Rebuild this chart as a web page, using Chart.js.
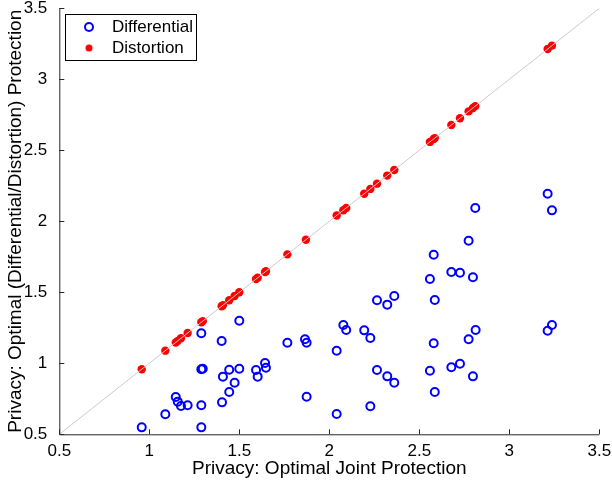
<!DOCTYPE html>
<html>
<head>
<meta charset="utf-8">
<script src="https://cdn.jsdelivr.net/npm/chart.js@4.4.0/dist/chart.umd.min.js"></script>
<style>
  html, body { margin: 0; padding: 0; background: #fff; }
  canvas { display: block; }
</style>
</head>
<body>
<canvas id="privacyChart" width="612" height="481"></canvas>
<script>
// axis ticks and reference line (y = x)
const tickValues = [0.5, 1, 1.5, 2, 2.5, 3, 3.5];
const diagonal = [0.5, 3.5];

// Differential (blue open circles)
const diffX = [0.958, 1.089, 1.147, 1.158, 1.176, 1.213, 1.289, 1.289, 1.297, 1.289, 1.289,
    1.402, 1.404, 1.409, 1.444, 1.444, 1.474, 1.500, 1.500, 1.593, 1.602, 1.643, 1.648,
    1.767, 1.865, 1.874, 1.874, 2.041, 2.041, 2.078, 2.094, 2.194, 2.228, 2.228, 2.265,
    2.265, 2.322, 2.322, 2.361, 2.361, 2.559, 2.559, 2.580, 2.580, 2.586, 2.586, 2.678,
    2.678, 2.726, 2.726, 2.774, 2.774, 2.798, 2.798, 2.811, 2.813, 3.213, 3.213, 3.237, 3.237];
const diffY = [0.549, 0.641, 0.763, 0.730, 0.699, 0.704, 1.211, 0.958, 0.962, 0.704, 0.549,
    1.157, 0.725, 0.906, 0.955, 0.798, 0.863, 1.300, 0.962, 0.953, 0.906, 1.002, 0.969,
    1.145, 1.169, 1.145, 0.765, 1.089, 0.643, 1.270, 1.234, 1.232, 1.178, 0.697, 1.444,
    0.953, 1.413, 0.908, 1.474, 0.863, 1.594, 0.948, 1.765, 1.141, 1.446, 0.798, 1.643,
    0.972, 1.638, 0.997, 1.863, 1.169, 1.606, 0.908, 2.094, 1.234, 2.194, 1.229, 2.077, 1.270];

// Distortion (red dots, on the diagonal)
const distX = [0.958, 1.089, 1.147, 1.158, 1.176, 1.213, 1.289, 1.297, 1.402, 1.409, 1.444,
    1.474, 1.500, 1.593, 1.602, 1.643, 1.648, 1.767, 1.870, 2.041, 2.078, 2.094, 2.194,
    2.228, 2.265, 2.322, 2.361, 2.559, 2.580, 2.586, 2.678, 2.726, 2.774, 2.798, 2.811,
    3.213, 3.237];
const distY = [0.958, 1.089, 1.147, 1.158, 1.176, 1.213, 1.289, 1.297, 1.402, 1.409, 1.444,
    1.474, 1.500, 1.593, 1.602, 1.643, 1.648, 1.767, 1.870, 2.041, 2.078, 2.094, 2.194,
    2.228, 2.265, 2.322, 2.361, 2.559, 2.580, 2.586, 2.678, 2.726, 2.774, 2.798, 2.811,
    3.213, 3.237];

const FONT = "'Liberation Sans', Arial, Helvetica, sans-serif";
const AXIS_COLOR = '#262626';

function toPoints(xs, ys) {
    return xs.map((x, i) => ({ x: x, y: ys[i] }));
}

// MATLAB-style axes: left + bottom lines with ticks pointing inward, plus a boxed legend
const matlabAxes = {
    id: 'matlabAxes',
    afterDraw(chart) {
        const ctx = chart.ctx;
        const xs = chart.scales.x, ys = chart.scales.y;
        const area = chart.chartArea;
        ctx.save();
        ctx.strokeStyle = AXIS_COLOR;
        ctx.lineWidth = 1;
        ctx.beginPath();
        ctx.moveTo(area.left + 0.5, area.top);
        ctx.lineTo(area.left + 0.5, area.bottom + 0.5);
        ctx.lineTo(area.right, area.bottom + 0.5);
        tickValues.forEach(v => {
            const px = Math.round(xs.getPixelForValue(v)) + 0.5;
            ctx.moveTo(px, area.bottom);
            ctx.lineTo(px, area.bottom - 5);
            const py = Math.round(ys.getPixelForValue(v)) + 0.5;
            ctx.moveTo(area.left, py);
            ctx.lineTo(area.left + 5, py);
        });
        ctx.stroke();

        // legend
        const bx = 65.5, by = 14.5, bw = 131, bh = 46;
        ctx.fillStyle = '#fff';
        ctx.fillRect(bx, by, bw, bh);
        ctx.strokeStyle = '#000';
        ctx.strokeRect(bx, by, bw, bh);

        ctx.beginPath();
        ctx.arc(89, 27, 4, 0, Math.PI * 2);
        ctx.strokeStyle = '#0000ff';
        ctx.lineWidth = 2;
        ctx.stroke();

        ctx.beginPath();
        ctx.arc(89, 48, 3.5, 0, Math.PI * 2);
        ctx.fillStyle = '#ff0000';
        ctx.fill();

        ctx.fillStyle = '#000';
        ctx.font = '17px ' + FONT;
        ctx.textBaseline = 'middle';
        ctx.textAlign = 'left';
        ctx.fillText(chart.data.datasets[0].label, 112, 27);
        ctx.fillText(chart.data.datasets[1].label, 112, 48);
        ctx.restore();
    }
};

new Chart(document.getElementById('privacyChart'), {
    type: 'scatter',
    data: {
        datasets: [{
            label: 'Differential',
            data: toPoints(diffX, diffY),
            pointStyle: 'circle',
            pointRadius: 4,
            borderColor: '#0000ff',
            borderWidth: 2,
            backgroundColor: 'rgba(0,0,0,0)',
            order: 2
        }, {
            label: 'Distortion',
            data: toPoints(distX, distY),
            pointStyle: 'circle',
            pointRadius: 4.2,
            borderWidth: 0,
            backgroundColor: '#ff0000',
            order: 1
        }, {
            type: 'line',
            label: 'y = x',
            data: toPoints(diagonal, diagonal),
            borderColor: '#cccccc',
            borderWidth: 1,
            pointRadius: 0,
            fill: false,
            order: 0
        }]
    },
    options: {
        responsive: false,
        animation: false,
        devicePixelRatio: 1,
        layout: { padding: { top: 8.3, right: 12.7, left: 0, bottom: 0 } },
        plugins: {
            legend: { display: false },
            tooltip: { enabled: false }
        },
        scales: {
            x: {
                type: 'linear',
                min: 0.5,
                max: 3.5,
                afterBuildTicks: s => { s.ticks = tickValues.map(v => ({ value: v })); },
                ticks: {
                    callback: v => String(v),
                    color: '#000',
                    font: { family: FONT, size: 17 },
                    padding: -1,
                    maxRotation: 0
                },
                grid: { display: false },
                border: { display: false },
                title: {
                    display: true,
                    text: 'Privacy: Optimal Joint Protection',
                    color: '#000',
                    font: { family: FONT, size: 19 },
                    padding: { top: 0, bottom: 1 }
                },
                afterFit: s => {
                    s.height = 46.7;
                    s.paddingLeft = 0;
                    s.paddingRight = 0;
                }
            },
            y: {
                type: 'linear',
                min: 0.5,
                max: 3.5,
                afterBuildTicks: s => { s.ticks = tickValues.map(v => ({ value: v })); },
                ticks: {
                    callback: v => String(v),
                    color: '#000',
                    font: { family: FONT, size: 17 },
                    padding: 4
                },
                grid: { display: false },
                border: { display: false },
                title: {
                    display: true,
                    text: 'Privacy: Optimal (Differential/Distortion) Protection',
                    color: '#000',
                    font: { family: FONT, size: 19 },
                    padding: { top: 4, bottom: 0 }
                },
                afterFit: s => {
                    s.width = 59.3;
                    s.paddingTop = 0;
                    s.paddingBottom = 0;
                }
            }
        }
    },
    plugins: [matlabAxes]
});
</script>
</body>
</html>
